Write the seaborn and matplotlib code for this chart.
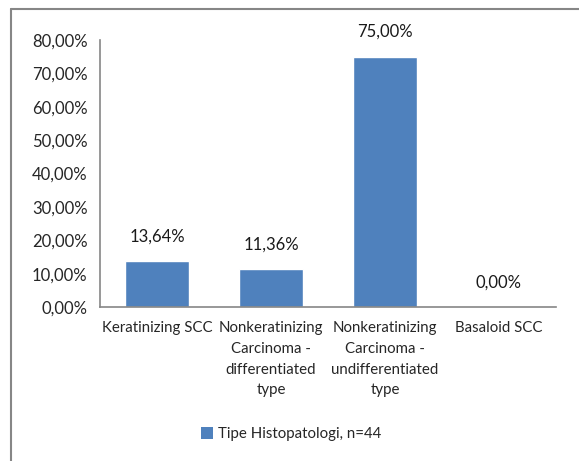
import matplotlib
matplotlib.use("Agg")
import matplotlib.pyplot as plt
import seaborn as sns
import pandas as pd
from matplotlib.lines import Line2D
from matplotlib.patches import Patch

# data
categories = ["Keratinizing SCC",
              "Nonkeratinizing\nCarcinoma -\ndifferentiated\ntype",
              "Nonkeratinizing\nCarcinoma -\nundifferentiated\ntype",
              "Basaloid SCC"]
values = [13.64, 11.36, 75.00, 0.00]
yticks = [0, 10, 20, 30, 40, 50, 60, 70, 80]
series_name = "Tipe Histopatologi, n=44"

df = pd.DataFrame({"tipe": categories, "persen": values})

sns.set_theme(style="white")
plt.rcParams['font.family'] = ['Lato', 'DejaVu Sans']

bar_color = "#4F81BD"
grey = "#868686"

fig = plt.figure(figsize=(5.79, 4.61), dpi=100)
ax = fig.add_axes([100 / 579, 1 - 307 / 461, 456 / 579, 267 / 461])

sns.barplot(data=df, x="tipe", y="persen", color=bar_color, width=0.57,
            saturation=1, ax=ax)

ax.set_ylim(0, 80)
ax.set_yticks(yticks)
ax.set_yticklabels([f"{t:.2f}%".replace(".", ",") for t in yticks], fontsize=12)
ax.tick_params(axis="x", labelsize=10.8, pad=10, length=0)
ax.tick_params(axis="y", pad=9, length=0)
for lbl in ax.get_xticklabels():
    lbl.set_linespacing(1.62)
    lbl.set_verticalalignment("top")
ax.set_xlabel("")
ax.set_ylabel("")

for s in ["top", "right"]:
    ax.spines[s].set_visible(False)
for s in ["left", "bottom"]:
    ax.spines[s].set_color(grey)
    ax.spines[s].set_linewidth(1.2)

# value labels
for i, v in enumerate(values):
    ax.annotate(f"{v:.2f}%".replace(".", ","), (i, v), xytext=(0, 12),
                textcoords="offset points", ha="center", va="bottom",
                fontsize=12, color="#1a1a1a")

# legend
handles = [Patch(facecolor=bar_color, edgecolor="none", label=series_name)]
fig.legend(handles=handles, loc="center", bbox_to_anchor=(291 / 579, 1 - 434 / 461),
           frameon=False, fontsize=10.8, handlelength=0.8, handleheight=0.8,
           handletextpad=0.3)

# outer chart frame (left and top visible)
fig.add_artist(Line2D([10.5 / 579, 10.5 / 579], [0, 1 - 9.5 / 461],
                      transform=fig.transFigure, color=grey, lw=1.5))
fig.add_artist(Line2D([10.5 / 579, 1], [1 - 9.5 / 461, 1 - 9.5 / 461],
                      transform=fig.transFigure, color=grey, lw=1.5))

fig.savefig("out.png", dpi=100)
